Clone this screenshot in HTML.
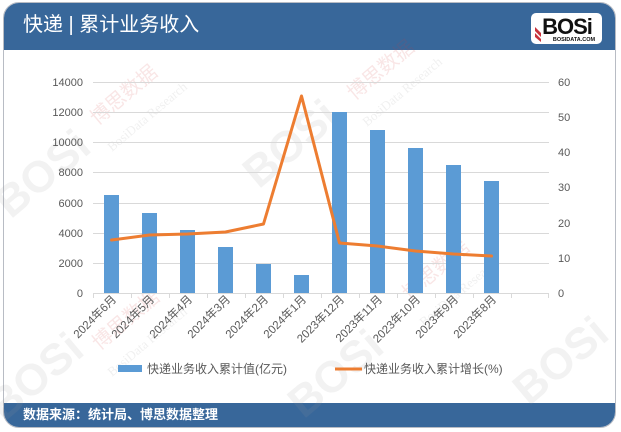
<!DOCTYPE html>
<html><head><meta charset="utf-8">
<style>
html,body{margin:0;padding:0;background:#fff;}
body{width:621px;height:432px;overflow:hidden;position:relative;font-family:"Liberation Sans","Noto Sans CJK SC",sans-serif;}
.card{position:absolute;left:3px;top:2px;width:613px;height:426px;border:1px solid #b8bcc4;border-radius:16px;overflow:hidden;background:#fff;box-sizing:border-box;}
.hdr{position:absolute;left:0;top:0;width:100%;height:47px;background:#38679a;}
.ftr{position:absolute;left:0;bottom:0;width:100%;height:24px;background:#38679a;}
.title{position:absolute;left:19px;top:9px;color:#fff;font-size:20px;line-height:26px;font-family:"Liberation Sans","Noto Sans CJK SC",sans-serif;}
.src{position:absolute;left:19px;top:3px;color:#fff;font-size:13px;font-weight:bold;line-height:18px;}
.logo{position:absolute;left:527px;top:10px;width:71px;height:31px;background:#fff;border-radius:5px;}
svg.main{position:absolute;left:0;top:0;overflow:hidden;}
</style></head><body>
<div class="card">
  <div class="hdr"><div class="title">快递 | 累计业务收入</div>
    <div class="logo">
      <svg width="71" height="31" viewBox="0 0 71 31">
        <polygon points="4,14 10,20 10,24 4,18" fill="#c8323c"/>
        <polygon points="4,20 10,26 10,29 4,24" fill="#c8323c"/>
        <text x="36" y="21" text-anchor="middle" font-family="Liberation Sans" font-weight="bold" font-size="22" fill="#111" letter-spacing="-1">BOSi</text>
        <text x="43" y="28" text-anchor="middle" font-family="Liberation Sans" font-weight="bold" font-size="5.5" fill="#111">BOSIDATA.COM</text>
      </svg>
    </div>
  </div>
  <div class="ftr"><div class="src">数据来源：统计局、博思数据整理</div></div>
</div>
<svg class="main" width="621" height="432" viewBox="0 0 621 432" font-family="Liberation Sans, Noto Sans CJK SC, sans-serif">
  <!-- watermarks -->
  <g font-weight="bold" font-size="44" fill="#9a9a9a" fill-opacity="0.13" text-anchor="middle">
    <text transform="translate(52,185) rotate(-40)">BOSi</text>
    <text transform="translate(300,155) rotate(-40)">BOSi</text>
    <text transform="translate(345,385) rotate(-40)">BOSi</text>
    <text transform="translate(570,372) rotate(-40)">BOSi</text>
    <text transform="translate(45,388) rotate(-40)">BOSi</text>
  </g>
  <g font-size="20" fill="#d04040" fill-opacity="0.13" text-anchor="middle">
    <text transform="translate(128,100) rotate(-40)">博思数据</text>
    <text transform="translate(385,75) rotate(-40)">博思数据</text>
    <text transform="translate(130,325) rotate(-40)">博思数据</text>
    <text transform="translate(440,275) rotate(-40)">博思数据</text>
  </g>
  <g font-size="13" fill="#888" fill-opacity="0.13" text-anchor="middle" font-family="Liberation Serif, serif">
    <text transform="translate(150,120) rotate(-40)">BosiData Research</text>
    <text transform="translate(405,95) rotate(-40)">BosiData Research</text>
    <text transform="translate(150,345) rotate(-40)">BosiData Research</text>
    <text transform="translate(462,295) rotate(-40)">BosiData Research</text>
  </g>
  <g stroke="#d9d9d9" stroke-width="1">
    <line x1="93" y1="82.5" x2="549" y2="82.5"/>
    <line x1="93" y1="112.5" x2="549" y2="112.5"/>
    <line x1="93" y1="142.5" x2="549" y2="142.5"/>
    <line x1="93" y1="172.5" x2="549" y2="172.5"/>
    <line x1="93" y1="203.5" x2="549" y2="203.5"/>
    <line x1="93" y1="233.5" x2="549" y2="233.5"/>
    <line x1="93" y1="263.5" x2="549" y2="263.5"/>
  </g>
  <g fill="#595959" font-size="11" text-anchor="end">
    <text x="83" y="86">14000</text>
    <text x="83" y="116">12000</text>
    <text x="83" y="146">10000</text>
    <text x="83" y="176">8000</text>
    <text x="83" y="207">6000</text>
    <text x="83" y="237">4000</text>
    <text x="83" y="267">2000</text>
    <text x="83" y="297">0</text>
  </g>
  <g fill="#595959" font-size="11" text-anchor="start">
    <text x="558" y="86">60</text>
    <text x="558" y="121">50</text>
    <text x="558" y="156">40</text>
    <text x="558" y="191">30</text>
    <text x="558" y="227">20</text>
    <text x="558" y="262">10</text>
    <text x="558" y="297">0</text>
  </g>
  <g fill="#5b9bd5">
    <rect x="104" y="195" width="15" height="98"/>
    <rect x="142" y="213" width="15" height="80"/>
    <rect x="180" y="230" width="15" height="63"/>
    <rect x="218" y="247" width="15" height="46"/>
    <rect x="256" y="264" width="15" height="29"/>
    <rect x="294" y="275" width="15" height="18"/>
    <rect x="332" y="112" width="15" height="181"/>
    <rect x="370" y="130" width="15" height="163"/>
    <rect x="408" y="148" width="15" height="145"/>
    <rect x="446" y="165" width="15" height="128"/>
    <rect x="484" y="181" width="15" height="112"/>
  </g>
  <g stroke="#d9d9d9" stroke-width="1">
    <line x1="93" y1="293.5" x2="549" y2="293.5"/>
    <line x1="93.5" y1="293" x2="93.5" y2="298"/>
    <line x1="131.5" y1="293" x2="131.5" y2="298"/>
    <line x1="169.5" y1="293" x2="169.5" y2="298"/>
    <line x1="207.5" y1="293" x2="207.5" y2="298"/>
    <line x1="245.5" y1="293" x2="245.5" y2="298"/>
    <line x1="283.5" y1="293" x2="283.5" y2="298"/>
    <line x1="321.5" y1="293" x2="321.5" y2="298"/>
    <line x1="359.5" y1="293" x2="359.5" y2="298"/>
    <line x1="397.5" y1="293" x2="397.5" y2="298"/>
    <line x1="435.5" y1="293" x2="435.5" y2="298"/>
    <line x1="473.5" y1="293" x2="473.5" y2="298"/>
    <line x1="511.5" y1="293" x2="511.5" y2="298"/>
    <line x1="548.5" y1="293" x2="548.5" y2="298"/>
  </g>
  <polyline fill="none" stroke="#ed7d31" stroke-width="3" stroke-linejoin="round" stroke-linecap="round"
    points="111.5,240 149.5,235 187.5,234 225.5,232 263.5,224 301.5,96 339.5,243 377.5,246 415.5,251 453.5,254 491.5,256"/>
  <g fill="#595959" font-size="11.5" text-anchor="end">
    <text transform="translate(117,300) rotate(-45)">2024年6月</text>
    <text transform="translate(155,300) rotate(-45)">2024年5月</text>
    <text transform="translate(193,300) rotate(-45)">2024年4月</text>
    <text transform="translate(231,300) rotate(-45)">2024年3月</text>
    <text transform="translate(269,300) rotate(-45)">2024年2月</text>
    <text transform="translate(307,300) rotate(-45)">2024年1月</text>
    <text transform="translate(345,300) rotate(-45)">2023年12月</text>
    <text transform="translate(383,300) rotate(-45)">2023年11月</text>
    <text transform="translate(421,300) rotate(-45)">2023年10月</text>
    <text transform="translate(459,300) rotate(-45)">2023年9月</text>
    <text transform="translate(497,300) rotate(-45)">2023年8月</text>
  </g>
  <rect x="118" y="365" width="24" height="7" fill="#5b9bd5"/>
  <text x="147" y="373" font-size="12" fill="#595959">快递业务收入累计值(亿元)</text>
  <line x1="335" y1="369" x2="362" y2="369" stroke="#ed7d31" stroke-width="3"/>
  <text x="364" y="373" font-size="12" fill="#595959">快递业务收入累计增长(%)</text>
</svg>
</body></html>
